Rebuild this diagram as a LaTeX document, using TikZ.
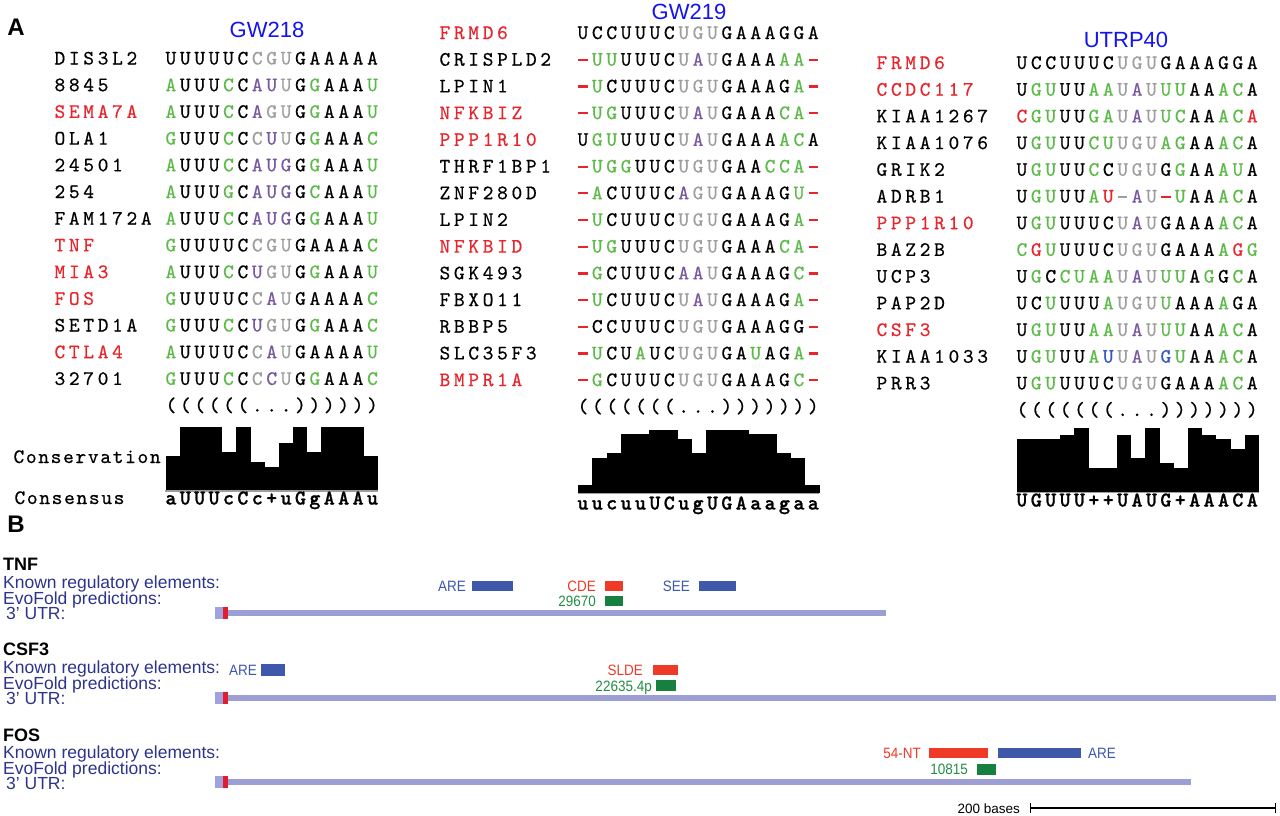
\documentclass[tikz,border=0pt]{standalone}
\usepackage{fontspec}
\setmainfont{Liberation Sans}
\newfontfamily\cond[FakeStretch=0.9]{Liberation Sans}
\newfontfamily\consfont{lmmonolt10-bold}[Extension=.otf, FakeBold=1]
\newfontfamily\seqmono{lmmono10-regular}[Extension=.otf, FakeBold=0.5]
\definecolor{ck}{RGB}{0,0,0}
\definecolor{cg}{RGB}{92,186,72}
\definecolor{cy}{RGB}{158,158,158}
\definecolor{cp}{RGB}{120,88,160}
\definecolor{cr}{RGB}{232,36,44}
\definecolor{cb}{RGB}{52,84,200}
\definecolor{ttl}{RGB}{20,20,240}
\definecolor{lab}{RGB}{45,52,140}
\definecolor{fblue}{RGB}{62,88,170}
\definecolor{fred}{RGB}{240,58,40}
\definecolor{fgreen}{RGB}{22,128,62}
\definecolor{tgreen}{RGB}{34,140,70}
\definecolor{utr}{RGB}{156,158,212}
\definecolor{utrs}{RGB}{160,162,222}
\definecolor{umark}{RGB}{225,30,45}
\newlength\cw \setlength\cw{14.4pt}
\def\cstop{}
\def\cells#1{\expandafter\cellsi#1\cstop}
\def\cellsi#1#2\cstop{\makebox[\cw]{#1}\ifx\cstop#2\cstop\else\cellsi#2\cstop\fi}
\def\cseqi#1#2\cstop#3#4\cstop{\makebox[\cw]{\color{c#1}\ifx-#3\rule[4.8pt]{9.5pt}{2.2pt}\else#3\fi}\ifx\cstop#2\cstop\else\cseqi#2\cstop#4\cstop\fi}
\def\cseqx#1#2{\edef\tmpa{\noexpand\cseqi#1\noexpand\cstop#2\noexpand\cstop}\tmpa}
\def\seqfont{\seqmono\fontsize{20.5}{20.5}\selectfont}
\tikzset{
  seq/.style={anchor=base west, inner sep=0pt, font=\seqfont},
  nm/.style={anchor=base west, inner sep=0pt, font=\seqfont},
  cons/.style={anchor=base west, inner sep=0pt, font=\consfont\fontsize{21}{21}\selectfont},
  ttlst/.style={inner sep=0pt, font=\fontsize{22}{22}\selectfont, text=ttl},
  panel/.style={inner sep=0pt, font=\bfseries\fontsize{24}{24}\selectfont},
  lbl/.style={anchor=base west, inner sep=0pt, font=\fontsize{17.5}{17.5}\selectfont, text=lab},
  gname/.style={anchor=base west, inner sep=0pt, font=\bfseries\fontsize{18}{18}\selectfont},
  flbl/.style={anchor=base east, inner sep=0pt, font=\cond\fontsize{15}{15}\selectfont},
  bar/.style={fill=black},
}
\begin{document}
\begin{tikzpicture}[x=1pt,y=-1pt]
\useasboundingbox (0,0) rectangle (1280,815);
\fill[white] (0,0) rectangle (1280,815);
% ---------- Panel A ----------
\node[panel] (lblA) at (16,27) {A};
\node[ttlst] (t1) at (267,30) {GW218};
\node[ttlst] (t2) at (689,12) {GW219};
\node[ttlst] (t3) at (1126,40) {UTRP40};
% column 1
\foreach \xnm/\xnc/\xcc/\xsq [count=\i from 0] in {
 DIS3L2/ck/kkkkkkyyykkkkkk/UUUUUCCGUGAAAAA,
 8845/ck/gkkkgkppykgkkkg/AUUUCCAUUGGAAAU,
 SEMA7A/cr/gkkkgkpyykgkkkg/AUUUCCAGUGGAAAU,
 OLA1/ck/gkkkgkypykgkkkg/GUUUCCCUUGGAAAC,
 24501/ck/gkkkgkpppkgkkkg/AUUUCCAUGGGAAAU,
 254/ck/gkkkgkpppkgkkkg/AUUUGCAUGGCAAAU,
 FAM172A/ck/gkkkgkpppkgkkkg/AUUUCCAUGGGAAAU,
 TNF/cr/gkkkkkyyykkkkkg/GUUUUCCGUGAAAAC,
 MIA3/cr/gkkkgkpyykgkkkg/AUUUCCUGUGGAAAU,
 FOS/cr/gkkkkkypykkkkkg/GUUUUCCAUGAAAAC,
 SETD1A/ck/gkkkgkpyykgkkkg/GUUUCCUGUGGAAAC,
 CTLA4/cr/gkkkkkypykkkkkg/AUUUUCCAUGAAAAU,
 32701/ck/gkkkgkypykgkkkg/GUUUCCCCUGGAAAC}{
  \node[nm, text=\xnc] (pa-n\i) at (52.5,{64.5+26.7*\i}) {\cells{\xnm}};
  \node[seq] (pa-s\i) at (163.5,{64.5+26.7*\i}) {\cseqx{\xcc}{\xsq}};
}
\node[seq] (pa-str) at (163.5,411.6) {\cells{((((((...))))))}};
\foreach \h [count=\i from 0] in {0.53,1,1,1,0.6,1,0.45,0.37,0.75,1,0.6,1,1,1,0.53}
  \fill[bar] (165.5+14.15*\i,490) rectangle ++(14.45,-63.3*\h);
\draw[cy, line width=1.5pt] (165,491) -- (378,491);
\node[nm] (pa-cv) at (12.5,463) {\setlength\cw{12.4pt}\cells{Conservation}};
\node[nm] (pa-cs) at (13.5,504) {\setlength\cw{12.4pt}\cells{Consensus}};
\node[cons] (pa-con) at (163.5,504.5) {\cells{aUUUcCc+uGgAAAu}};
% column 2
\foreach \xnm/\xnc/\xcc/\xsq [count=\i from 0] in {
 FRMD6/cr/kkkkkkkyyykkkkkkk/UCCUUUCUGUGAAAGGA,
 CRISPLD2/ck/rggkkkkypykkkkggr/-UUUUUCUAUGAAAAA-,
 LPIN1/ck/rgkkkkkyyykkkkkgr/-UCUUUCUGUGAAAGA-,
 NFKBIZ/cr/rggkkkkypykkkkggr/-UGUUUCUAUGAAACA-,
 PPP1R10/cr/kggkkkkypykkkkggk/UGUUUUCUAUGAAAACA,
 THRF1BP1/ck/rgggkkkyyykkkgggr/-UGGUUCUGUGAACCA-,
 ZNF280D/ck/rgkkkkkpyykkkkkgr/-ACUUUCAGUGAAAGU-,
 LPIN2/ck/rgkkkkkyyykkkkkgr/-UCUUUCUGUGAAAGA-,
 NFKBID/cr/rggkkkkyyykkkkggr/-UGUUUCUGUGAAACA-,
 SGK493/ck/rgkkkkkppykkkkkgr/-GCUUUCAAUGAAAGC-,
 FBXO11/ck/rgkkkkkypykkkkkgr/-UCUUUCUAUGAAAGA-,
 RBBP5/ck/rkkkkkkyyykkkkkkr/-CCUUUCUGUGAAAGG-,
 SLC35F3/ck/rgkkgkkyyykkgkkgr/-UCUAUCUGUGAUAGA-,
 BMPR1A/cr/rgkkkkkyyykkkkkgr/-GCUUUCUGUGAAAGC-}{
  \node[nm, text=\xnc] (pb-n\i) at (437.5,{39+26.7*\i}) {\cells{\xnm}};
  \node[seq] (pb-s\i) at (575.5,{39+26.7*\i}) {\cseqx{\xcc}{\xsq}};
}
\node[seq] (pb-str) at (575.5,412.8) {\cells{(((((((...)))))))}};
\foreach \h [count=\i from 0] in {0.12,0.55,0.64,0.93,0.93,1,1,0.85,0.64,1,1,1,0.93,0.93,0.64,0.55,0.12}
  \fill[bar] (578.3+14.18*\i,492.7) rectangle ++(14.48,-62.7*\h);
\draw[cy, line width=1.5pt] (578,493.5) -- (819,493.5);
\node[cons] (pb-con) at (575.5,509.5) {\cells{uucuuUCugUGAaagaa}};
% column 3
\foreach \xnm/\xnc/\xcc/\xsq [count=\i from 0] in {
 FRMD6/cr/kkkkkkkyyykkkkkkk/UCCUUUCUGUGAAAGGA,
 CCDC117/cr/kggkkggypyggkkggk/UGUUUAAUAUUUAAACA,
 KIAA1267/ck/rggkkggypyggkkggr/CGUUUGAUAUUCAAACA,
 KIAA1076/ck/kggkkggyyyggkkggk/UGUUUCUUGUAGAAACA,
 GRIK2/ck/kggkkgkyyykgkkggk/UGUUUCCUGUGGAAAUA,
 ADRB1/ck/kggkkgrypyrgkkggk/UGUUUAU-AU-UAAACA,
 PPP1R10/cr/kggkkkkypykkkkggk/UGUUUUCUAUGAAAACA,
 BAZ2B/ck/grgkkkkyyykkkkgrg/CGUUUUCUGUGAAAAGG,
 UCP3/ck/kgkggggypyggkgkgk/UGCCUAAUAUUUAGGCA,
 PAP2D/ck/kkgkkkgyyygkkkgkk/UCUUUUAUGUUAAAAGA,
 CSF3/cr/kggkkggypyggkkggk/UGUUUAAUAUUUAAACA,
 KIAA1033/ck/kggkkgbypybgkkggk/UGUUUAUUAUGUAAACA,
 PRR3/ck/kggkkkkyyykkkkggk/UGUUUUCUGUGAAAACA}{
  \node[nm, text=\xnc] (pc-n\i) at (874.5,{69+26.7*\i}) {\cells{\xnm}};
  \node[seq] (pc-s\i) at (1014.5,{69+26.7*\i}) {\cseqx{\xcc}{\xsq}};
}
\node[seq] (pc-str) at (1014.5,416.1) {\cells{(((((((...)))))))}};
\foreach \h [count=\i from 0] in {0.83,0.83,0.83,0.9,1,0.38,0.38,0.9,0.53,1,0.46,0.38,1,0.9,0.83,0.67,0.9}
  \fill[bar] (1017.3+14.2*\i,491.7) rectangle ++(14.5,-63.4*\h);
\draw[cy, line width=1.5pt] (1017,492.5) -- (1259,492.5);
\node[cons] (pc-con) at (1014.5,506.5) {\cells{UGUUU++UAUG+AAACA}};
% ---------- Panel B ----------
\node[panel] (lblB) at (16,524) {B};
% TNF
\node[gname] (tnf) at (3,570.5) {TNF};
\node[lbl] (tnf-k) at (3,588.3) {Known regulatory elements:};
\node[lbl] (tnf-e) at (3,604.3) {EvoFold predictions:};
\node[lbl] (tnf-u) at (6,619.3) {3’ UTR:};
\fill[utr] (227,610) rectangle (886,616);
\fill[utrs] (215,607) rectangle (223,619);
\fill[umark] (223,607) rectangle (227.5,619);
\node[flbl, text=fblue] (tnf-are) at (466,591) {ARE};
\fill[fblue] (472,580.7) rectangle (513,590.7);
\node[flbl, text=fred] (tnf-cde) at (596,591) {CDE};
\fill[fred] (604.5,580.7) rectangle (622.5,590.7);
\node[flbl, text=tgreen] (tnf-evo) at (596,606.5) {29670};
\fill[fgreen] (604.5,596) rectangle (622.5,606);
\node[flbl, text=fblue] (tnf-see) at (690,591) {SEE};
\fill[fblue] (699,580.7) rectangle (735.5,590.7);
% CSF3
\node[gname] (csf) at (3,655) {CSF3};
\node[lbl] (csf-k) at (3,673.3) {Known regulatory elements:};
\node[lbl] (csf-e) at (3,689.3) {EvoFold predictions:};
\node[lbl] (csf-u) at (6,704.3) {3’ UTR:};
\fill[utr] (227,695) rectangle (1276,701);
\fill[utrs] (215,692) rectangle (223,704);
\fill[umark] (223,692) rectangle (227.5,704);
\node[flbl, text=fblue] (csf-are) at (257,675.5) {ARE};
\fill[fblue] (261,664) rectangle (285,676);
\node[flbl, text=fred] (csf-slde) at (643,675.5) {SLDE};
\fill[fred] (653,665) rectangle (678,675);
\node[flbl, text=tgreen] (csf-evo) at (652,691) {22635.4p};
\fill[fgreen] (656,680) rectangle (676,690.7);
% FOS
\node[gname] (fos) at (3,741) {FOS};
\node[lbl] (fos-k) at (3,758.3) {Known regulatory elements:};
\node[lbl] (fos-e) at (3,774.3) {EvoFold predictions:};
\node[lbl] (fos-u) at (6,789.3) {3’ UTR:};
\fill[utr] (227,779) rectangle (1191,785);
\fill[utrs] (215,776) rectangle (223,788);
\fill[umark] (223,776) rectangle (227.5,788);
\node[flbl, text=fred] (fos-nt) at (921,758.2) {54-NT};
\fill[fred] (929,747.7) rectangle (987.5,758);
\fill[fblue] (997.5,747.7) rectangle (1081,758);
\node[flbl, anchor=base west, text=fblue] (fos-are) at (1088,758.2) {ARE};
\node[flbl, text=tgreen] (fos-evo) at (968,774.8) {10815};
\fill[fgreen] (976.6,764) rectangle (996,775);
% scale bar
\coordinate (sb-l) at (1030.7,808);
\coordinate (sb-r) at (1275.7,808);
\draw[line width=1.5pt] (sb-l) -- (sb-r);
\draw[line width=1.5pt] ([yshift=-5pt]sb-l) -- ([yshift=5pt]sb-l);
\draw[line width=1.5pt] ([yshift=-5pt]sb-r) -- ([yshift=5pt]sb-r);
\node[anchor=base east, inner sep=0pt, font=\fontsize{13.5}{13.5}\selectfont] (sb-t) at (1020,813) {200 bases};
\end{tikzpicture}
\end{document}
